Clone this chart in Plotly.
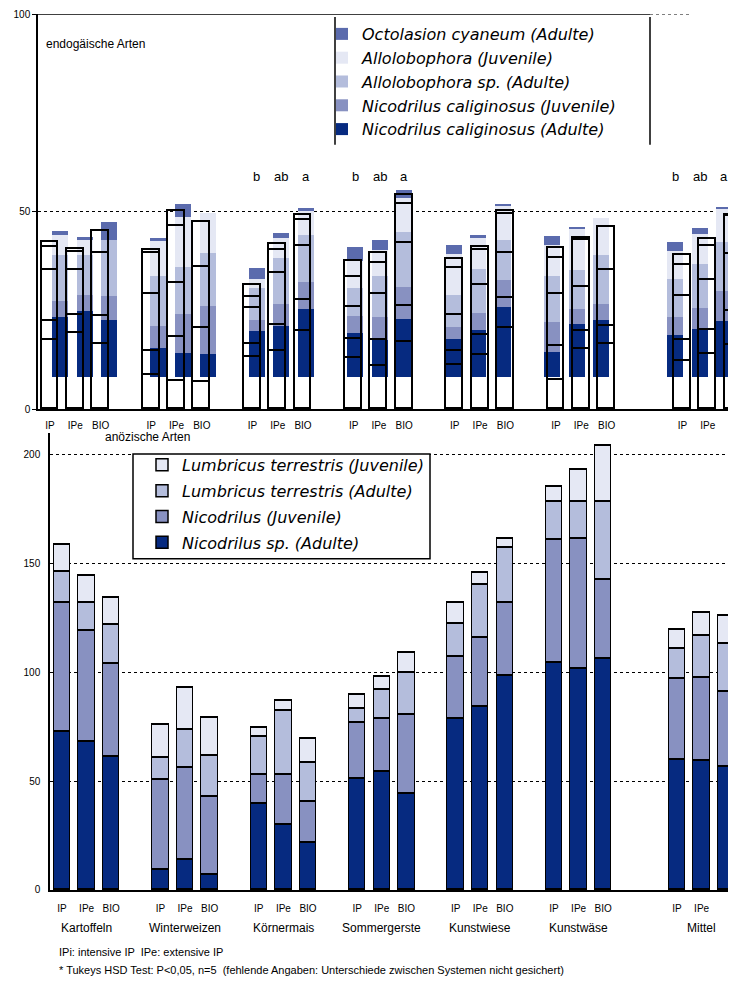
import plotly.graph_objects as go

# ---------------- data ----------------
groups = ["Kartoffeln", "Winterweizen", "Körnermais", "Sommergerste",
          "Kunstwiese", "Kunstwäse", "Mittel"]
systems = ["IP", "IPe", "BIO"]

# endogäische Arten (Individuen/m²), order per group: IP, IPe, BIO
endo_names = ["Nicodrilus caliginosus (Adulte)", "Nicodrilus caliginosus (Juvenile)",
              "Allolobophora sp. (Adulte)", "Allolobophora (Juvenile)",
              "Octolasion cyaneum (Adulte)"]
endo_nc_ad = [17.4, 19.2, 16.5, 8.6, 7.2, 6.8, 13.3, 14.8, 19.8, 12.9, 10.9, 17.0,
              11.2, 13.6, 20.4, 7.4, 15.3, 16.5, 12.2, 13.9, 16.3]
endo_nc_juv = [4.8, 4.7, 7.0, 6.2, 11.0, 13.7, 3.2, 6.4, 7.7, 4.8, 6.5, 9.0,
               3.4, 5.1, 7.7, 8.6, 4.5, 4.6, 5.2, 6.2, 8.6]
endo_allo_ad = [13.1, 11.4, 16.1, 14.4, 13.8, 15.4, 9.2, 13.2, 13.7, 8.2, 11.8, 16.0,
                9.3, 12.7, 11.5, 13.2, 11.1, 14.1, 11.1, 12.6, 14.3]
endo_allo_juv = [5.7, 4.5, 0.0, 10.3, 14.4, 11.5, 2.6, 5.9, 6.7, 7.6, 7.7, 9.9,
                 11.7, 8.9, 9.8, 9.1, 12.0, 10.8, 7.9, 8.7, 9.7]
endo_octo = [1.4, 0.7, 5.4, 0.8, 3.7, 0.0, 3.2, 1.4, 1.1, 4.1, 2.7, 2.3,
             2.5, 0.7, 0.7, 2.4, 0.5, 0.0, 2.6, 1.7, 0.2]

# anözische Arten
anec_names = ["Nicodrilus sp. (Adulte)", "Nicodrilus (Juvenile)",
              "Lumbricus terrestris (Adulte)", "Lumbricus terrestris (Juvenile)"]
anec_nic_ad = [72.6, 68.0, 61.0, 9.2, 13.8, 6.9, 39.3, 29.8, 21.7, 51.0, 54.0, 43.9,
               78.4, 84.0, 98.2, 104.4, 101.7, 106.3, 59.6, 59.2, 56.6]
anec_nic_juv = [59.2, 50.8, 43.0, 41.3, 42.2, 35.9, 13.5, 23.2, 18.5, 25.7, 24.4, 36.4,
                28.6, 32.0, 33.6, 56.2, 59.6, 36.2, 37.4, 38.4, 34.4]
anec_lt_ad = [14.2, 13.2, 17.6, 10.2, 17.4, 18.8, 17.5, 29.3, 18.2, 6.3, 13.6, 19.6,
              15.3, 24.0, 25.2, 17.8, 17.1, 35.9, 13.5, 19.1, 22.0]
anec_lt_juv = [12.7, 12.5, 12.4, 15.3, 19.6, 17.2, 3.9, 4.7, 10.9, 6.5, 5.8, 9.1,
               9.5, 5.6, 4.3, 6.9, 14.6, 25.6, 9.1, 10.7, 13.0]

sig_letters = {2: ["b", "ab", "a"], 3: ["b", "ab", "a"], 6: ["b", "ab", "a"]}

y_ticks_top = [0, 50, 100]
y_ticks_bottom = [0, 50, 100, 150, 200]

# ---------------- styling ----------------
c_dark = "#062a80"
c_mid = "#8891c1"
c_light = "#b4bddc"
c_vlight = "#e5e8f4"
c_octo = "#5b6bad"
endo_colors = [c_dark, c_mid, c_light, c_vlight, c_octo]
anec_colors = [c_dark, c_mid, c_light, c_vlight]

FONT = "Liberation Sans, Arial, sans-serif"
LFONT = "DejaVu Sans, sans-serif"
SCREEN_W, SCREEN_H = 736, 985
OFF = 8                       # page body margin
W, H = SCREEN_W - 2 * OFF, SCREEN_H - 2 * OFF
RIGHT = OFF + W               # right edge of figure in screen pixels
Y_OFF, Y_SCALE = 12, 0.99     # observed vertical mapping of the page


pos = []
xlabels = []
for g in range(len(groups)):
    for s in range(len(systems)):
        pos.append(g * 4 + s + (1 if g == len(groups) - 1 else 0))
        xlabels.append(systems[s])


def px(x):
    return (x - OFF) / W


def py(y):
    return (H - (y - Y_OFF) / Y_SCALE) / H


fig = go.Figure()

endo_series = [endo_nc_ad, endo_nc_juv, endo_allo_ad, endo_allo_juv, endo_octo]
for i, (name, vals, col) in enumerate(zip(endo_names, endo_series, endo_colors)):
    fig.add_trace(go.Bar(x=pos, y=vals, name=name, marker=dict(color=col, line=dict(width=0)),
                         width=0.65, xaxis="x", yaxis="y", legend="legend",
                         legendgroup=name, legendrank=1000 - i, hoverinfo="skip"))
for name, vals in zip(endo_names, endo_series):
    fig.add_trace(go.Bar(x=pos, y=vals, name=name, showlegend=False,
                         marker=dict(color="rgba(0,0,0,0)", line=dict(color="black", width=1.6)),
                         width=0.67, xaxis="x2", yaxis="y2", hoverinfo="skip"))

anec_series = [anec_nic_ad, anec_nic_juv, anec_lt_ad, anec_lt_juv]
for i, (name, vals, col) in enumerate(zip(anec_names, anec_series, anec_colors)):
    fig.add_trace(go.Bar(x=pos, y=vals, name=name,
                         marker=dict(color=col, line=dict(color="black", width=1.5)),
                         width=0.66, xaxis="x3", yaxis="y3", legend="legend2",
                         legendgroup="b" + name, legendrank=1000 - i, hoverinfo="skip"))

top_dom = [py(408), py(12)]
bot_dom = [py(890), py(432)]
u_col = 24.6
u_out = 25.3
x0_top = 38
x0_bot = 50
span_top = RIGHT - x0_top
span_bot = RIGHT - x0_bot

fig.update_layout(
    width=W, height=H, autosize=False,
    margin=dict(l=0, r=0, t=0, b=0),
    paper_bgcolor="white", plot_bgcolor="white",
    barmode="stack", bargap=0,
    font=dict(family=FONT, size=10, color="black"),
    xaxis=dict(domain=[px(x0_top), 1], anchor="y", visible=False,
               range=[-(60 - x0_top) / u_col, -(60 - x0_top) / u_col + span_top / u_col]),
    yaxis=dict(domain=top_dom, anchor="x", visible=False,
               range=[-8 / 0.877, 92 / 0.877]),
    xaxis2=dict(overlaying="x", anchor="y2",
                range=[-(50 - x0_top) / u_out, -(50 - x0_top) / u_out + span_top / u_out],
                tickmode="array", tickvals=pos, ticktext=xlabels, ticks="",
                showline=True, linecolor="black", linewidth=1.5, showgrid=False,
                zeroline=False, tickfont=dict(size=10), ticklabelstandoff=6),
    yaxis2=dict(overlaying="y", anchor="x2", range=[0, 100],
                tickmode="array", tickvals=y_ticks_top, ticks="outside", ticklen=4,
                tickcolor="black", showline=True, linecolor="black", linewidth=1.5,
                showgrid=True, gridcolor="black", griddash="dot", gridwidth=1,
                zeroline=False, tickfont=dict(size=10), ticklabeloverflow="allow"),
    xaxis3=dict(domain=[px(x0_bot), 1], anchor="y3",
                range=[-(62 - x0_bot) / u_col, -(62 - x0_bot) / u_col + span_bot / u_col],
                tickmode="array", tickvals=pos, ticktext=xlabels, ticks="",
                showline=True, linecolor="black", linewidth=1.5, showgrid=False,
                zeroline=False, tickfont=dict(size=10), ticklabelstandoff=8),
    yaxis3=dict(domain=bot_dom, anchor="x3", range=[0, 210],
                tickmode="array", tickvals=y_ticks_bottom, ticks="",
                showline=True, linecolor="black", linewidth=1.5,
                showgrid=True, gridcolor="black", griddash="dot", gridwidth=1,
                zeroline=False, tickfont=dict(size=10), ticklabelstandoff=6),
    legend=dict(x=px(322), y=py(15), xanchor="left", yanchor="top",
                bgcolor="rgba(0,0,0,0)", borderwidth=0,
                font=dict(family=LFONT, size=16, style="italic"),
                traceorder="grouped", tracegroupgap=0),
    legend2=dict(x=px(142), y=py(447), xanchor="left", yanchor="top",
                 bgcolor="rgba(0,0,0,0)", borderwidth=0,
                 font=dict(family=LFONT, size=16, style="italic"),
                 traceorder="grouped", tracegroupgap=2),
)

shapes = [
    dict(type="line", xref="x2 domain", yref="y2", x0=0, x1=(650 - x0_top) / span_top,
         y0=100, y1=100, line=dict(color="black", width=1.5)),
    dict(type="line", xref="x2 domain", yref="y2", x0=(650 - x0_top) / span_top,
         x1=(690 - x0_top) / span_top, y0=100, y1=100,
         line=dict(color="black", width=1, dash="dot")),
    dict(type="line", xref="paper", yref="paper", x0=px(335), x1=px(335), y0=py(15), y1=py(143),
         line=dict(color="black", width=1.5)),
    dict(type="line", xref="paper", yref="paper", x0=px(650), x1=px(650), y0=py(15), y1=py(143),
         line=dict(color="black", width=1.5)),
    # frame of the lower legend
    dict(type="rect", xref="paper", yref="paper", x0=px(133), x1=px(430), y0=py(558), y1=py(453),
         fillcolor="white", line=dict(color="black", width=1.5), layer="above"),
]
fig.update_layout(shapes=shapes)

ann = [
    dict(text="endogäische Arten", x=px(44), y=py(42), xref="paper", yref="paper",
         xanchor="left", yanchor="middle", showarrow=False, font=dict(size=12)),
    dict(text="anözische Arten", x=px(147), y=py(436), xref="paper", yref="paper",
         xanchor="center", yanchor="middle", showarrow=False, font=dict(size=12)),
    dict(text="IPi: intensive IP  IPe: extensive IP", x=px(57), y=py(952), xref="paper",
         yref="paper", xanchor="left", yanchor="middle", showarrow=False, font=dict(size=11)),
    dict(text="* Tukeys HSD Test: P<0,05, n=5  (fehlende Angaben: Unterschiede zwischen Systemen nicht gesichert)",
         x=px(57), y=py(970), xref="paper", yref="paper", xanchor="left", yanchor="middle",
         showarrow=False, font=dict(size=11)),
]
for g, name in enumerate(groups):
    ann.append(dict(text=name, x=pos[g * 3 + 1], y=py(928), xref="x3", yref="paper",
                    xanchor="center", yanchor="middle", showarrow=False, font=dict(size=12)))
for g, letters in sig_letters.items():
    for s, letter in enumerate(letters):
        ann.append(dict(text=letter, x=pos[g * 3 + s], y=py(175), xref="x", yref="paper",
                        xanchor="center", yanchor="middle", showarrow=False, font=dict(size=13)))
fig.update_layout(annotations=ann)

fig.write_html("out.html")
